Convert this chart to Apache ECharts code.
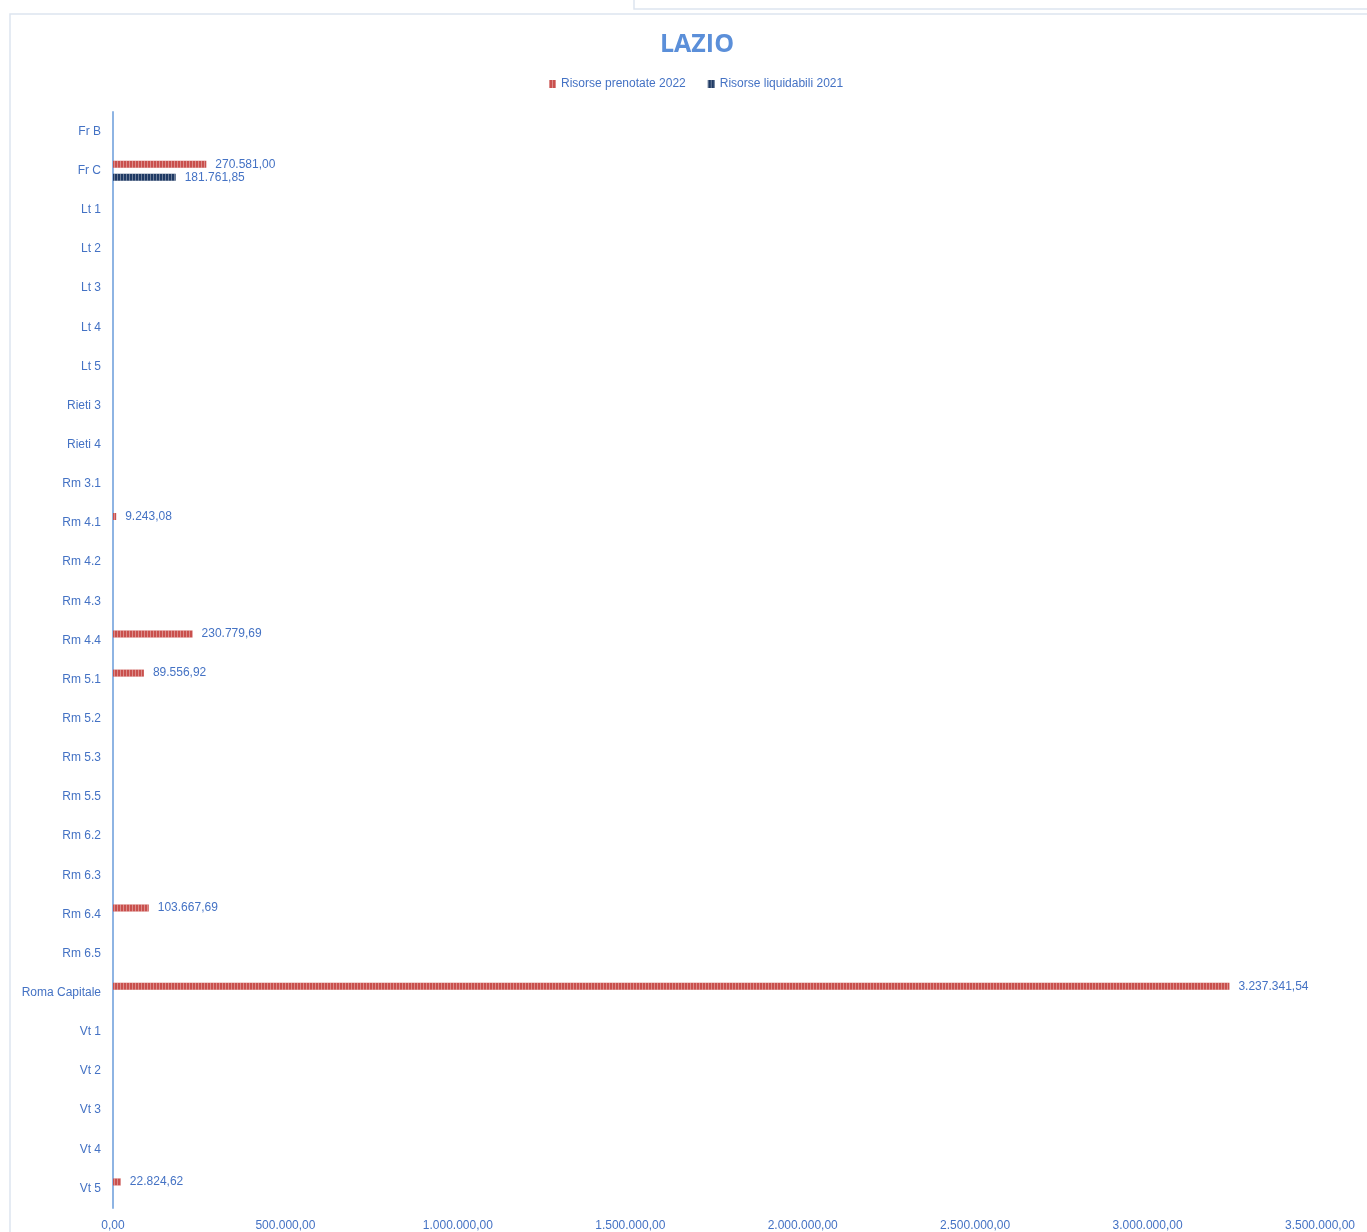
<!DOCTYPE html>
<html>
<head>
<meta charset="utf-8">
<script src="https://cdn.jsdelivr.net/npm/echarts@6/dist/echarts.min.js"></script>
<style>
  html, body { margin: 0; padding: 0; background: #fff; }
  #chart { width: 1367px; height: 1232px; }
</style>
</head>
<body>
<div id="chart"></div>
<script>
const categories = [
  'Fr B', 'Fr C', 'Lt 1', 'Lt 2', 'Lt 3', 'Lt 4', 'Lt 5', 'Rieti 3', 'Rieti 4',
  'Rm 3.1', 'Rm 4.1', 'Rm 4.2', 'Rm 4.3', 'Rm 4.4', 'Rm 5.1', 'Rm 5.2', 'Rm 5.3',
  'Rm 5.5', 'Rm 6.2', 'Rm 6.3', 'Rm 6.4', 'Rm 6.5', 'Roma Capitale',
  'Vt 1', 'Vt 2', 'Vt 3', 'Vt 4', 'Vt 5'
]

const prenotate2022 = [
  null, 270581.00, null, null, null, null, null, null, null,
  null, 9243.08, null, null, 230779.69, 89556.92, null, null,
  null, null, null, 103667.69, null, 3237341.54,
  null, null, null, null, 22824.62
]

const liquidabili2021 = [
  null, 181761.85, null, null, null, null, null, null, null,
  null, null, null, null, null, null, null, null,
  null, null, null, null, null, null,
  null, null, null, null, null
]

const xTicks = { min: 0, max: 3500000, interval: 500000 }

// numeri in formato italiano: 1.234.567,89
function fmtIt(v) {
  const parts = Number(v).toFixed(2).split('.')
  const int = parts[0].replace(/\B(?=(\d{3})+(?!\d))/g, '.')
  return int + ',' + parts[1]
}

const textBlue = '#4472c4'
const font = 'Liberation Sans'

const stripes = {
  color: 'rgba(255,255,255,0.35)',
  symbol: 'rect',
  symbolSize: 1,
  dashArrayX: [1, 2],
  dashArrayY: [10, 0]
}

const chart = echarts.init(document.getElementById('chart'))

chart.setOption({
  animation: false,
  textStyle: { fontFamily: font },
  title: {
    text: 'LAZIO',
    left: 655,
    top: 27,
    textStyle: { color: '#5b8fd9', fontSize: 25, fontWeight: 'bold', fontFamily: 'Open Sans' }
  },
  legend: {
    top: 73,
    left: 544,
    itemWidth: 7,
    itemHeight: 8,
    itemGap: 22,
    icon: 'rect',
    textStyle: { color: textBlue, fontSize: 12, fontFamily: font },
    data: ['Risorse prenotate 2022', 'Risorse liquidabili 2021']
  },
  graphic: [
    {
      type: 'rect',
      shape: { x: 10, y: 14, width: 1400, height: 1300 },
      style: { fill: 'none', stroke: '#dde5ef', lineWidth: 1.5 },
      silent: true
    },
    {
      type: 'rect',
      shape: { x: 634, y: -10, width: 800, height: 19 },
      style: { fill: 'none', stroke: '#dde5ef', lineWidth: 1.5 },
      silent: true
    }
  ],
  grid: {
    left: 113,
    right: 47,
    top: 112,
    bottom: 24
  },
  xAxis: {
    type: 'value',
    min: xTicks.min,
    max: xTicks.max,
    interval: xTicks.interval,
    axisLine: { show: false },
    axisTick: { show: false },
    splitLine: { show: false },
    axisLabel: {
      color: textBlue,
      fontSize: 12,
      margin: 12,
      formatter: v => fmtIt(v)
    }
  },
  yAxis: {
    type: 'category',
    data: categories,
    inverse: true,
    axisLine: { show: true, lineStyle: { color: '#8eb4e3', width: 2 } },
    axisTick: { show: false },
    axisLabel: { color: textBlue, fontSize: 12, margin: 12 }
  },
  series: [
    {
      name: 'Risorse prenotate 2022',
      type: 'bar',
      data: prenotate2022,
      barWidth: 7,
      barGap: '85%',
      itemStyle: { color: '#c9504d', decal: stripes },
      label: {
        show: true,
        position: 'right',
        distance: 9,
        color: textBlue,
        fontSize: 12,
        formatter: p => p.value == null ? '' : fmtIt(p.value)
      }
    },
    {
      name: 'Risorse liquidabili 2021',
      type: 'bar',
      data: liquidabili2021,
      barWidth: 7,
      itemStyle: { color: '#1f3a64', decal: stripes },
      label: {
        show: true,
        position: 'right',
        distance: 9,
        color: textBlue,
        fontSize: 12,
        formatter: p => p.value == null ? '' : fmtIt(p.value)
      }
    }
  ]
})
</script>
</body>
</html>
